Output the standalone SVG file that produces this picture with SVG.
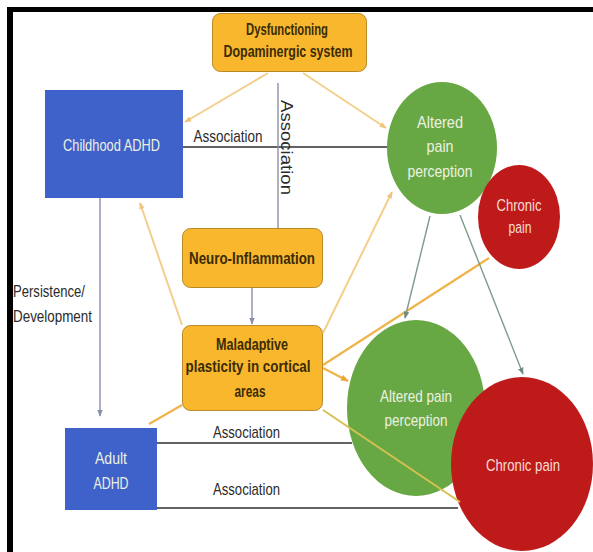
<svg xmlns="http://www.w3.org/2000/svg" width="593" height="552" viewBox="0 0 593 552">
  <style>
    .lbl { font-family: "Liberation Sans", Arial, sans-serif; font-size: 17px; text-anchor: middle; }
    .dark { fill: #2b2b2b; }
    .brown { fill: #3a2c06; font-weight: bold; }
    .light { fill: #eef0e2; }
    .pink { fill: #f6dcd6; }
    .box-orange { fill: #f9b72e; stroke: #b98a2a; stroke-width: 1; }
    .box-blue { fill: #3e62c9; }
    .green { fill: #67a844; }
    .red { fill: #bf1a1a; }
    .assoc { stroke: #2e2e2e; stroke-width: 1.7; fill: none; }
    .gray { stroke: #8a8fa8; stroke-width: 1.4; fill: none; }
    .pale { stroke: #f4cf8c; stroke-width: 2; fill: none; }
    .orange { stroke: #efb44a; stroke-width: 2.2; fill: none; }
    .olive { stroke: #d8c050; stroke-width: 2; fill: none; }
    .gg { stroke: #7f9a8c; stroke-width: 1.4; fill: none; }
  </style>
  <defs>
    <marker id="ah-pale" viewBox="0 0 10 10" refX="9" refY="5" markerWidth="7" markerHeight="7" markerUnits="userSpaceOnUse" orient="auto">
      <path d="M0,1 L10,5 L0,9 z" fill="#f0c47a"/>
    </marker>
    <marker id="ah-orange" viewBox="0 0 10 10" refX="9" refY="5" markerWidth="8" markerHeight="8" markerUnits="userSpaceOnUse" orient="auto">
      <path d="M0,1 L10,5 L0,9 z" fill="#eaa83a"/>
    </marker>
    <marker id="ah-gray" viewBox="0 0 10 10" refX="9" refY="5" markerWidth="7" markerHeight="7" markerUnits="userSpaceOnUse" orient="auto">
      <path d="M0,1 L10,5 L0,9 z" fill="#8a8fa8"/>
    </marker>
    <marker id="ah-gg" viewBox="0 0 10 10" refX="9" refY="5" markerWidth="7" markerHeight="7" markerUnits="userSpaceOnUse" orient="auto">
      <path d="M0,1 L10,5 L0,9 z" fill="#6f8a7c"/>
    </marker>
  </defs>

  <rect width="593" height="552" fill="#ffffff"/>
  <!-- frame bars -->
  <rect x="7" y="7" width="586" height="5" fill="#000000"/>
  <rect x="7" y="7" width="6" height="545" fill="#000000"/>

  <!-- nodes -->
  <g id="dopamine">
    <rect class="box-orange" x="212.5" y="13.5" width="154" height="58" rx="8"/>
    <text class="lbl brown" x="287" y="35" textLength="82" lengthAdjust="spacingAndGlyphs">Dysfunctioning</text>
    <text class="lbl brown" x="288" y="57" textLength="129" lengthAdjust="spacingAndGlyphs">Dopaminergic system</text>
  </g>
  <g id="childhood">
    <rect class="box-blue" x="45" y="90" width="138" height="108"/>
    <text class="lbl light" x="111.5" y="151" textLength="97" lengthAdjust="spacingAndGlyphs">Childhood ADHD</text>
  </g>
  <g id="neuro">
    <rect class="box-orange" x="182.5" y="228.5" width="140" height="59" rx="8"/>
    <text class="lbl brown" x="252" y="264" textLength="126" lengthAdjust="spacingAndGlyphs">Neuro-Inflammation</text>
  </g>
  <g id="maladaptive">
    <rect class="box-orange" x="182.5" y="325.5" width="140" height="85" rx="8"/>
    <text class="lbl brown" x="252" y="350" textLength="72" lengthAdjust="spacingAndGlyphs">Maladaptive</text>
    <text class="lbl brown" x="248" y="372" textLength="125" lengthAdjust="spacingAndGlyphs">plasticity in cortical</text>
    <text class="lbl brown" x="250" y="397" textLength="31" lengthAdjust="spacingAndGlyphs">areas</text>
  </g>
  <g id="adult">
    <rect class="box-blue" x="65" y="428" width="92" height="82"/>
    <text class="lbl light" x="111" y="464" textLength="32" lengthAdjust="spacingAndGlyphs">Adult</text>
    <text class="lbl light" x="111" y="489" textLength="35" lengthAdjust="spacingAndGlyphs">ADHD</text>
  </g>
  <g id="altered-top">
    <ellipse class="green" cx="442" cy="148" rx="55" ry="66"/>
    <text class="lbl light" x="440" y="128" textLength="46" lengthAdjust="spacingAndGlyphs">Altered</text>
    <text class="lbl light" x="440" y="152" textLength="27" lengthAdjust="spacingAndGlyphs">pain</text>
    <text class="lbl light" x="440" y="177" textLength="65" lengthAdjust="spacingAndGlyphs">perception</text>
  </g>
  <g id="chronic-top">
    <ellipse class="red" cx="519" cy="217" rx="41" ry="52"/>
    <text class="lbl pink" x="519" y="211" textLength="45" lengthAdjust="spacingAndGlyphs">Chronic</text>
    <text class="lbl pink" x="520" y="233" textLength="23" lengthAdjust="spacingAndGlyphs">pain</text>
  </g>
  <g id="altered-bottom">
    <ellipse class="green" cx="416" cy="408" rx="69" ry="88" fill="#6cac4c"/>
    <text class="lbl light" x="416" y="402" textLength="72" lengthAdjust="spacingAndGlyphs">Altered pain</text>
    <text class="lbl light" x="416" y="426" textLength="63" lengthAdjust="spacingAndGlyphs">perception</text>
  </g>
  <g id="chronic-bottom">
    <ellipse class="red" cx="522" cy="464" rx="71" ry="87"/>
    <text class="lbl pink" x="523" y="471" textLength="74" lengthAdjust="spacingAndGlyphs">Chronic pain</text>
  </g>

  <!-- connectors -->
  <g id="connectors">
    <line class="pale" x1="268" y1="73" x2="185" y2="122" marker-end="url(#ah-pale)"/>
    <line class="pale" x1="303" y1="73" x2="386" y2="128" marker-end="url(#ah-pale)"/>
    <line class="assoc" x1="183" y1="147" x2="387" y2="147"/>
    <line class="gray" x1="278" y1="83" x2="278" y2="228"/>
    <line class="gray" x1="252" y1="288" x2="252" y2="324" marker-end="url(#ah-gray)"/>
    <line class="gray" x1="100" y1="198" x2="100" y2="416" marker-end="url(#ah-gray)"/>
    <line class="pale" x1="182" y1="325" x2="140" y2="203" marker-end="url(#ah-pale)"/>
    <line class="orange" x1="182" y1="405" x2="149" y2="424"/>
    <line class="assoc" x1="157" y1="443" x2="352" y2="443"/>
    <line class="assoc" x1="157" y1="508" x2="458" y2="508"/>
    <line class="pale" x1="323" y1="333" x2="392" y2="192" marker-end="url(#ah-pale)"/>
    <line class="orange" x1="323" y1="365" x2="489" y2="258"/>
    <line class="orange" x1="323" y1="368" x2="348" y2="381" marker-end="url(#ah-orange)"/>
    <line class="olive" x1="323" y1="410" x2="460" y2="502"/>
    <line class="gg" x1="430" y1="216" x2="405" y2="318" marker-end="url(#ah-gg)"/>
    <line class="gg" x1="460" y1="215" x2="523" y2="374" marker-end="url(#ah-gg)"/>
  </g>

  <!-- connector labels -->
  <g id="labels">
    <text class="lbl dark" x="228" y="142" textLength="69" lengthAdjust="spacingAndGlyphs">Association</text>
    <text class="lbl dark" x="0" y="0" transform="translate(281,147.5) rotate(90)" textLength="95" lengthAdjust="spacingAndGlyphs" font-size="15">Association</text>
    <text class="lbl dark" x="246.5" y="438" textLength="67" lengthAdjust="spacingAndGlyphs">Association</text>
    <text class="lbl dark" x="246.5" y="495" textLength="67" lengthAdjust="spacingAndGlyphs">Association</text>
    <text class="dark" x="13" y="297" font-family="Liberation Sans, Arial, sans-serif" font-size="17" textLength="72" lengthAdjust="spacingAndGlyphs">Persistence/</text>
    <text class="dark" x="13" y="322" font-family="Liberation Sans, Arial, sans-serif" font-size="17" textLength="79" lengthAdjust="spacingAndGlyphs">Development</text>
  </g>
</svg>
